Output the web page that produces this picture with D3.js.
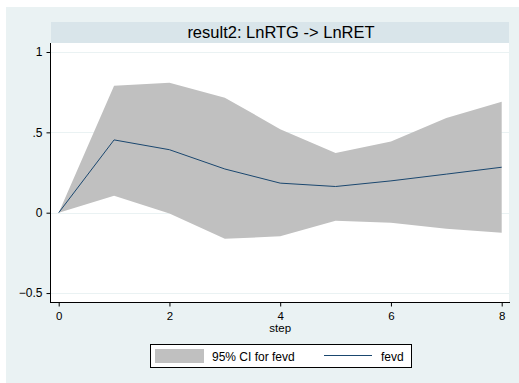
<!DOCTYPE html>
<html>
<head>
<meta charset="utf-8">
<script src="https://cdn.jsdelivr.net/npm/d3@7"></script>
<style>
  html, body { margin: 0; padding: 0; background: #ffffff; }
  svg { display: block; }
  text { font-family: "Liberation Sans", Arial, sans-serif; fill: #000; }
</style>
</head>
<body>
<svg id="chart" width="519" height="383"></svg>
<script>
// Forecast-error variance decomposition, impulse LnRTG -> response LnRET
const steps   = [0, 1, 2, 3, 4, 5, 6, 7, 8];
const fevd    = [0, 0.453, 0.392, 0.272, 0.184, 0.163, 0.198, 0.240, 0.283];
const ciUpper = [0, 0.790, 0.808, 0.716, 0.520, 0.372, 0.443, 0.590, 0.690];
const ciLower = [0, 0.105, -0.005, -0.162, -0.147, -0.050, -0.062, -0.100, -0.125];
const yTicks  = [-0.5, 0, 0.5, 1];
const xTicks  = [0, 2, 4, 6, 8];
const title   = "result2: LnRTG -> LnRET";
const legendLabels = ["95% CI for fevd", "fevd"];

const svg = d3.select("#chart");

// graph region
svg.append("rect").attr("x", 6).attr("y", 7).attr("width", 513).attr("height", 376)
  .attr("fill", "#eaf2f3");

const plot = { left: 51, right: 510, top: 43, bottom: 303 };

// title band
svg.append("rect").attr("x", plot.left).attr("y", 22)
  .attr("width", plot.right - plot.left - 1).attr("height", 21)
  .attr("fill", "#d9e5ea");
svg.append("text").attr("x", (plot.left + plot.right) / 2 + 0.5).attr("y", 37.5)
  .attr("text-anchor", "middle").attr("font-size", 16.5).text(title);

// plot region
svg.append("rect").attr("x", plot.left).attr("y", plot.top)
  .attr("width", plot.right - plot.left - 1).attr("height", plot.bottom - plot.top)
  .attr("fill", "#ffffff");

const x = d3.scaleLinear().domain([0, 8]).range([58.7, 501.7]);
const y = d3.scaleLinear().domain([0, 1]).range([212.7, 52]);

// horizontal grid lines
svg.append("g").selectAll("line").data(yTicks).join("line")
  .attr("x1", plot.left).attr("x2", plot.right - 1)
  .attr("y1", d => Math.round(y(d)) + 0.5).attr("y2", d => Math.round(y(d)) + 0.5)
  .attr("stroke", "#eaf2f3").attr("stroke-width", 1);

// confidence band
const band = d3.area()
  .x((d, i) => x(steps[i]))
  .y0((d, i) => y(ciLower[i]))
  .y1((d, i) => y(ciUpper[i]));
svg.append("path").datum(steps).attr("d", band).attr("fill", "#c0c0c0");

// fevd line
const line = d3.line().x((d, i) => x(steps[i])).y((d, i) => y(fevd[i]));
svg.append("path").datum(steps).attr("d", line)
  .attr("fill", "none").attr("stroke", "#1a476f").attr("stroke-width", 1);

// y axis
const yAxis = d3.axisLeft(y).tickValues(yTicks).tickSize(4).tickPadding(4)
  .tickFormat(d => d === 0 ? "0" : d3.format("")(d).replace(/^(-?)0\./, "$1."));
const gy = svg.append("g").attr("transform", `translate(${plot.left - 0.5},0)`).call(yAxis);
gy.select(".domain").attr("d", `M0,${plot.top}V${plot.bottom}`).attr("stroke", "#000");
gy.selectAll("text").attr("font-size", 12).attr("font-family", "Liberation Sans, Arial, sans-serif");

// x axis
const xAxis = d3.axisBottom(x).tickValues(xTicks).tickSize(4).tickPadding(5).tickFormat(d3.format("d"));
const gx = svg.append("g").attr("transform", `translate(0,${plot.bottom - 0.5})`).call(xAxis);
gx.select(".domain").attr("d", `M${plot.left - 0.5},0H${plot.right}`).attr("stroke", "#000");
gx.selectAll("text").attr("font-size", 11.5).attr("font-family", "Liberation Sans, Arial, sans-serif");
svg.append("text").attr("x", x(4)).attr("y", 332).attr("text-anchor", "middle")
  .attr("font-size", 11.5).text("step");

// legend
const lg = svg.append("g");
lg.append("rect").attr("x", 150.5).attr("y", 344.5).attr("width", 261).attr("height", 23)
  .attr("fill", "#ffffff").attr("stroke", "#000").attr("stroke-width", 1);
lg.append("rect").attr("x", 155).attr("y", 349).attr("width", 49).attr("height", 14)
  .attr("fill", "#c0c0c0");
lg.append("text").attr("x", 212).attr("y", 360.5).attr("font-size", 12).text(legendLabels[0]);
lg.append("line").attr("x1", 324).attr("x2", 372).attr("y1", 355.5).attr("y2", 355.5)
  .attr("stroke", "#1a476f").attr("stroke-width", 1);
lg.append("text").attr("x", 381).attr("y", 360.5).attr("font-size", 12).text(legendLabels[1]);
</script>
</body>
</html>
